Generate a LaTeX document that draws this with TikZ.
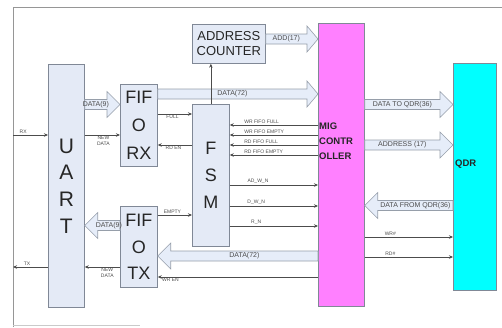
\documentclass[tikz,border=0pt]{standalone}
\usepackage{fontspec}
\setmainfont{Liberation Sans}
\usetikzlibrary{arrows.meta,calc,positioning}
\definecolor{boxblue}{RGB}{228,234,246}
\definecolor{boxline}{RGB}{128,136,150}
\definecolor{busfill}{RGB}{230,237,249}
\definecolor{busline}{RGB}{150,158,170}
\definecolor{migpink}{RGB}{255,128,255}
\definecolor{qdrcyan}{RGB}{0,255,255}
\definecolor{framegray}{RGB}{150,150,150}
% wide bus arrow: name, start, tip, signed head length, label
\newcommand{\busarrow}[5]{%
  \draw[bus] ($(#2)+(0,-5)$) -- ($(#3)+(#4,-5)$) -- ($(#3)+(#4,-13)$) -- (#3)
    -- ($(#3)+(#4,13)$) -- ($(#3)+(#4,5)$) -- ($(#2)+(0,5)$) -- cycle;
  \node[buslbl] (#1) at ($(#2)!0.5!(#3)+(#4/2,0)$) {#5};}

\begin{document}
\begin{tikzpicture}[x=1pt,y=-1pt,>={Stealth[length=4pt,width=3.5pt]},
  blk/.style={draw=boxline,fill=boxblue,line width=0.7pt,inner sep=0pt,anchor=north west,align=center,text=black!85},
  bus/.style={draw=busline,fill=busfill,line width=0.6pt},
  sig/.style={->,draw=black!70,line width=0.7pt},
  lbl/.style={font=\fontsize{5}{5.5}\selectfont,text=black!70,inner sep=1pt,align=center},
  buslbl/.style={font=\fontsize{7}{8}\selectfont,text=black!70,inner sep=0pt}]
  \useasboundingbox (0,0) rectangle (502,327);
  % frame
  \draw[framegray,line width=0.8pt] (13,327) -- (13,7) -- (502,7);
  \draw[framegray!50,line width=0.6pt] (13,325) -- (140,325);

  % blocks
  \node[blk,minimum width=36,minimum height=243,font=\fontsize{21}{26.7}\selectfont] (uart) at (48,64) {U\\A\\R\\T};
  \node[blk,minimum width=37,minimum height=82,font=\fontsize{18}{28}\selectfont] (fiforx) at (120,84) {FIF\\O\\RX};
  \node[blk,minimum width=37,minimum height=81,font=\fontsize{18}{26.5}\selectfont] (fifotx) at (120,206) {FIF\\O\\TX};
  \node[blk,minimum width=73,minimum height=39,font=\fontsize{13}{15}\selectfont] (addr) at (192,24) {ADDRESS\\COUNTER};
  \node[blk,minimum width=37,minimum height=142,font=\fontsize{18}{27}\selectfont] (fsm) at (192,104) {F\\S\\M};
  \node[draw=boxline,fill=migpink,line width=0.7pt,anchor=north west,minimum width=46,minimum height=283] (mig) at (318,23) {};
  \node[anchor=west,inner sep=0pt,align=left,font=\bfseries\fontsize{9.5}{15}\selectfont,text=black!85] (miglbl) at (319,141) {MIG\\CONTR\\OLLER};
  \node[draw=boxline,fill=qdrcyan,line width=0.7pt,anchor=north west,minimum width=43,minimum height=227] (qdr) at (453,63) {};
  \node[anchor=west,inner sep=0pt,font=\bfseries\fontsize{9.5}{12}\selectfont,text=black!85] (qdrlbl) at (455,164) {QDR};

  % buses
  \busarrow{rxbus}{uart.east |- 0,104.5}{fiforx.west |- 0,104.5}{-13}{DATA(9)}
  \busarrow{txbus}{fifotx.west |- 0,225.5}{uart.east |- 0,225.5}{13}{DATA(9)}
  \busarrow{wrbus}{fiforx.east |- 0,94}{mig.west |- 0,94}{-11}{DATA(72)}
  \busarrow{addbus}{addr.east |- 0,39}{mig.west |- 0,39}{-11}{ADD(17)}
  \busarrow{qdrin}{mig.east |- 0,104.5}{qdr.west |- 0,104.5}{-13}{DATA TO QDR(36)}
  \busarrow{qdradr}{mig.east |- 0,145}{qdr.west |- 0,145}{-13}{ADDRESS (17)}
  \busarrow{qdrout}{qdr.west |- 0,205.5}{mig.east |- 0,205.5}{13}{DATA FROM QDR(36)}
  \busarrow{rdbus}{mig.west |- 0,256}{fifotx.east |- 0,256}{13}{DATA(72)}

  % single signals
  \coordinate (rxin) at (13,135);
  \coordinate (txout) at (13,267);
  \draw[sig] (rxin) -- (uart.west |- rxin) node[lbl,above,pos=0.29] {RX};
  \draw[sig] (uart.west |- txout) -- (txout) node[lbl,above,pos=0.6] {TX};
  \draw[sig] (uart.east |- 0,135) -- (fiforx.west |- 0,135) node[lbl,below,pos=0.53] {NEW\\DATA};
  \draw[sig] (fifotx.west |- 0,267) -- (uart.east |- 0,267) node[lbl,below,pos=0.36] {NEW\\DATA};
  \draw[sig] (fiforx.east |- 0,114) -- (fsm.west |- 0,114) node[lbl,below,pos=0.43] {FULL};
  \draw[sig] (fsm.west |- 0,145) -- (fiforx.east |- 0,145) node[lbl,below,pos=0.54] {RD EN};
  \draw[sig] (fifotx.east |- 0,215) -- (fsm.west |- 0,215) node[lbl,above,pos=0.43] {EMPTY};
  \draw[sig] (mig.west |- 0,277) -- (fifotx.east |- 0,277) node[lbl,below,pos=0.92] {WR EN};
  \draw[sig] (fsm.north) -- (fsm.north |- addr.south);
  % status from MIG to FSM
  \draw[sig] (mig.west |- 0,125) -- (fsm.east |- 0,125) node[lbl,above,anchor=south west,pos=0.85] {WR FIFO FULL};
  \draw[sig] (mig.west |- 0,135) -- (fsm.east |- 0,135) node[lbl,above,anchor=south west,pos=0.85] {WR FIFO EMPTY};
  \draw[sig] (mig.west |- 0,145) -- (fsm.east |- 0,145) node[lbl,above,anchor=south west,pos=0.85] {RD FIFO FULL};
  \draw[sig] (mig.west |- 0,155) -- (fsm.east |- 0,155) node[lbl,above,anchor=south west,pos=0.85] {RD FIFO EMPTY};
  % commands from FSM to MIG
  \draw[sig] (fsm.east |- 0,185) -- (mig.west |- 0,185) node[lbl,above,pos=0.32] {AD\_W\_N};
  \draw[sig] (fsm.east |- 0,206) -- (mig.west |- 0,206) node[lbl,above,pos=0.3] {D\_W\_N};
  \draw[sig] (fsm.east |- 0,226) -- (mig.west |- 0,226) node[lbl,above,pos=0.3] {R\_N};
  % control to QDR
  \draw[sig] (mig.east |- 0,237) -- (qdr.west |- 0,237) node[lbl,above,pos=0.29] {WR\#};
  \draw[sig] (mig.east |- 0,257) -- (qdr.west |- 0,257) node[lbl,above,pos=0.29] {RD\#};
\end{tikzpicture}
\end{document}
